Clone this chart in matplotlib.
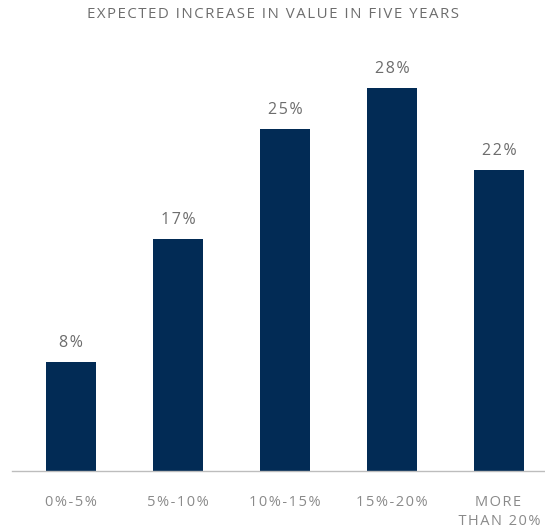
import matplotlib
matplotlib.use("Agg")
import matplotlib.pyplot as plt

categories = ["0%-5%", "5%-10%", "10%-15%", "15%-20%", "MORE\nTHAN 20%"]
values = [8, 17, 25, 28, 22]
title = "EXPECTED INCREASE IN VALUE IN FIVE YEARS"

navy = "#022b55"
grey = "#6d6d6d"

plt.rcParams["font.family"] = ["Open Sans", "DejaVu Sans"]


def spaced(s, gap="\u200a"):
    # crude letter spacing with hair spaces
    return gap.join(s)


fig = plt.figure(figsize=(5.45, 5.29), dpi=100)
ax = fig.add_axes([12 / 545, 58 / 529, 533 / 545, 410 / 529])

x = list(range(len(values)))
bars = ax.bar(x, values, width=0.467, color=navy)
ax.set_xlim(-0.551, 4.43)
ax.set_ylim(0, 30)

for b, v in zip(bars, values):
    ax.annotate(spaced(f"{v}%"), (b.get_x() + b.get_width() / 2, v),
                xytext=(0, 8), textcoords="offset points",
                ha="center", va="bottom", fontsize=11.5, color=grey)

for spine in ["top", "right", "left"]:
    ax.spines[spine].set_visible(False)
ax.spines["bottom"].set_color("#bdbdbd")
ax.spines["bottom"].set_linewidth(1)
ax.set_yticks([])
ax.set_xticks(x)
ax.set_xticklabels([spaced(c) for c in categories], fontsize=10.5, color="#8a8a8a",
                   linespacing=1.4)
ax.tick_params(axis="x", length=0, pad=17)

fig.text(273 / 545, 1 - 15 / 529, spaced(title), ha="center", va="center",
         fontsize=10.8, color=grey)

fig.savefig("out.png", dpi=100)
